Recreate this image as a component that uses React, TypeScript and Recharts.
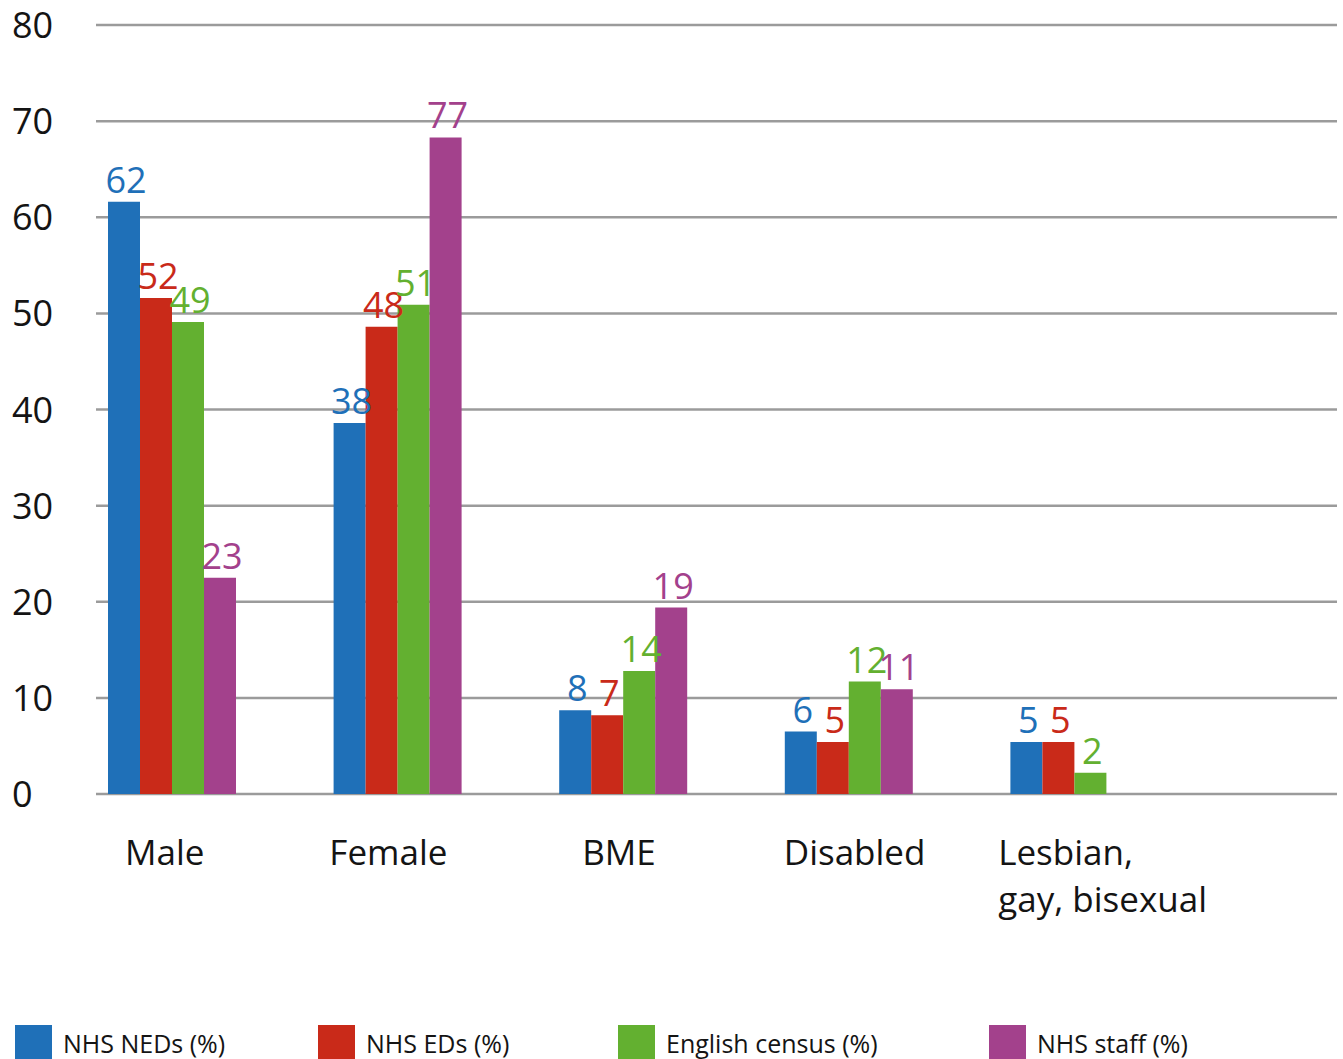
import { Bar, BarChart, CartesianGrid, LabelList, XAxis, YAxis } from "recharts";

const categories = ["Male", "Female", "BME", "Disabled", "Lesbian,\ngay, bisexual"];

// bar heights as drawn in the picture
const nhsNeds = [61.6, 38.6, 8.7, 6.5, 5.4];
const nhsEds = [51.6, 48.6, 8.2, 5.4, 5.4];
const englishCensus = [49.1, 50.9, 12.8, 11.7, 2.2];
const nhsStaff = [22.5, 68.3, 19.4, 10.9, null];

// value labels printed above the bars
const nedsLabels = [62, 38, 8, 6, 5];
const edsLabels = [52, 48, 7, 5, 5];
const censusLabels = [49, 51, 14, 12, 2];
const staffLabels = [23, 77, 19, 11, null];

const yTicks = [0, 10, 20, 30, 40, 50, 60, 70, 80];

const SERIES = [
  { key: "neds", name: "NHS NEDs (%)", color: "#1f70b8", labels: nedsLabels },
  { key: "eds", name: "NHS EDs (%)", color: "#c92a19", labels: edsLabels },
  { key: "census", name: "English census (%)", color: "#63b030", labels: censusLabels },
  { key: "staff", name: "NHS staff (%)", color: "#a3418c", labels: staffLabels },
];

const data = categories.map((c, i) => ({
  category: c,
  neds: nhsNeds[i],
  eds: nhsEds[i],
  census: englishCensus[i],
  staff: nhsStaff[i],
}));

const FONT = "'Open Sans', sans-serif";
const INK = "#141414";
const GRID_LEFT = 96;
const LEGEND_X = [15, 318, 618, 989];

function YTick({ y, payload }: any) {
  return (
    <text x={12} y={y} dy={13} fontSize={36} fontFamily={FONT} fill={INK}>
      {payload.value}
    </text>
  );
}

function XTick({ x, payload, index }: any) {
  const lines = String(payload.value).split("\n");
  const multi = lines.length > 1;
  const shifts = [-8, -10, -5, 5, -77];
  return (
    <text
      x={x + shifts[index]}
      y={865}
      fontSize={35}
      fontFamily={FONT}
      fill={INK}
      textAnchor={multi ? "start" : "middle"}
    >
      {lines.map((l, i) => (
        <tspan key={i} x={x + shifts[index]} dy={i === 0 ? 0 : 47}>
          {l}
        </tspan>
      ))}
    </text>
  );
}

function makeLabel(labels: (number | null)[], color: string) {
  return (props: any) => {
    const { x, y, width, index } = props;
    const v = labels[index];
    if (v == null) return null;
    return (
      <text
        x={x + width / 2 + 2}
        y={y - 9}
        fontSize={36}
        fontFamily={FONT}
        fill={color}
        textAnchor="middle"
      >
        {v}
      </text>
    );
  };
}

function GridLine(props: any) {
  const { y1, y2, x2 } = props;
  return <line x1={GRID_LEFT} x2={x2} y1={y1} y2={y2} stroke="#9b9b9b" strokeWidth={2.5} />;
}

export default function App() {
  return (
    <div style={{ position: "absolute", left: 0, top: 0, width: 1343, height: 1059, background: "#fff", overflow: "hidden" }}>
      <BarChart
        width={1343}
        height={1000}
        data={data}
        margin={{ top: 25, right: 6, left: 0, bottom: 0 }}
        barCategoryGap={48}
        barGap={0}
      >
        <CartesianGrid vertical={false} horizontal={(p: any) => <GridLine key={p.key ?? p.index} {...p} />} />
        <YAxis
          width={60}
          domain={[0, 80]}
          ticks={yTicks}
          axisLine={false}
          tickLine={false}
          tick={<YTick />}
          interval={0}
        />
        <XAxis
          dataKey="category"
          height={206}
          axisLine={false}
          tickLine={false}
          padding={{ left: 0, right: 149 }}
          tick={<XTick />}
          interval={0}
        />
        {SERIES.map((s) => (
          <Bar key={s.key} dataKey={s.key} name={s.name} fill={s.color} isAnimationActive={false}>
            <LabelList dataKey={s.key} content={makeLabel(s.labels, s.color)} />
          </Bar>
        ))}
      </BarChart>
      {SERIES.map((s, i) => (
        <div
          key={s.key}
          style={{ position: "absolute", left: LEGEND_X[i], top: 1025, display: "flex", alignItems: "flex-start" }}
        >
          <span style={{ width: 37, height: 34, background: s.color, display: "inline-block" }} />
          <span
            style={{
              marginLeft: 11,
              fontFamily: FONT,
              fontSize: 25,
              lineHeight: "36px",
              color: INK,
              whiteSpace: "nowrap",
              display: "inline-block",
            }}
          >
            {s.name}
          </span>
        </div>
      ))}
    </div>
  );
}
